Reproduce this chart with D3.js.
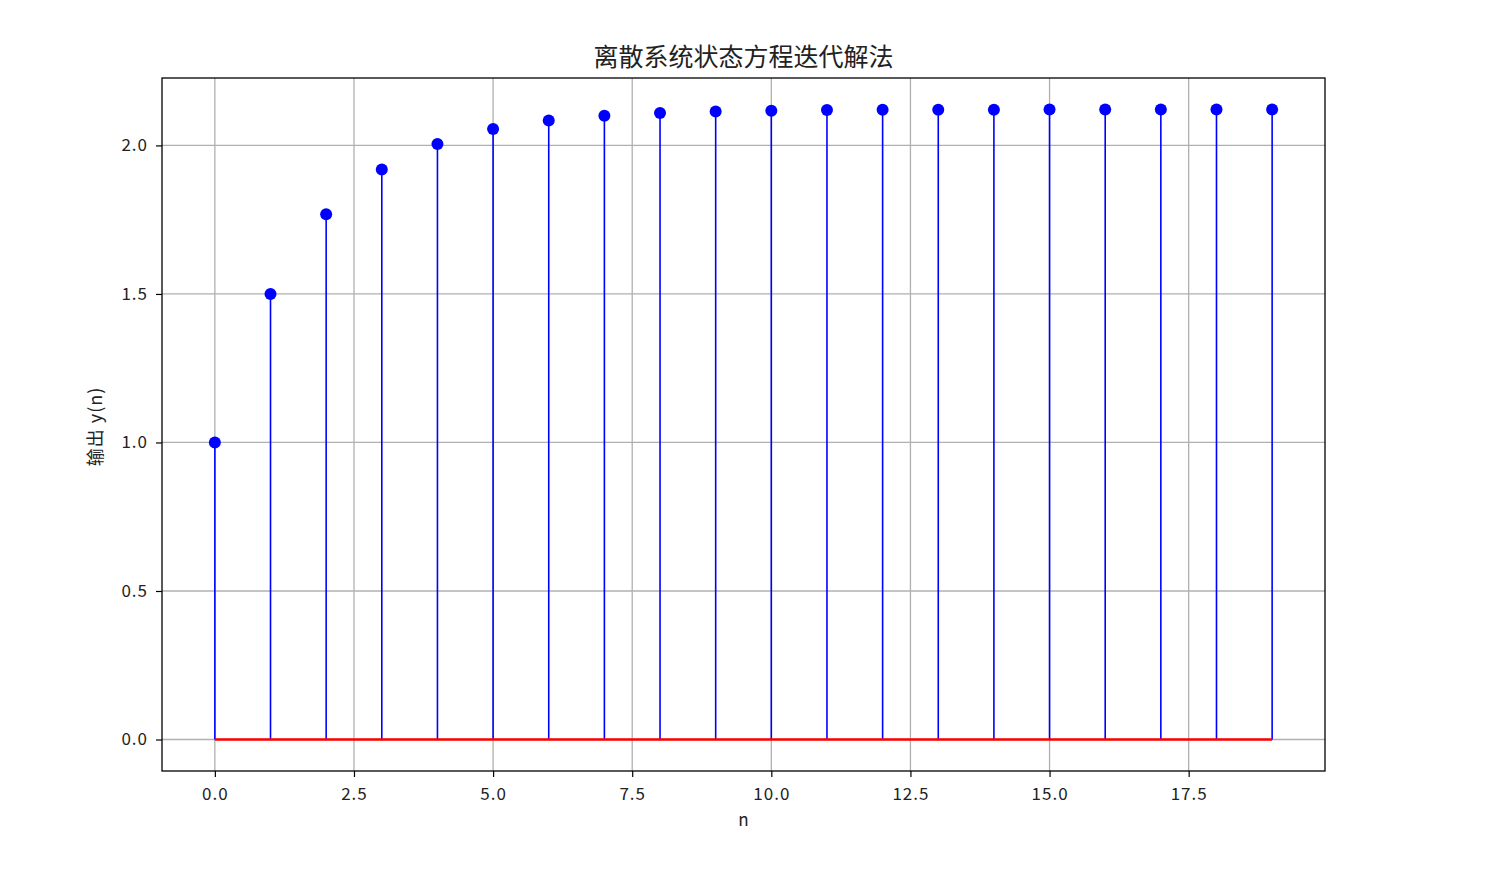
<!DOCTYPE html>
<html>
<head>
<meta charset="utf-8">
<script src="https://cdn.jsdelivr.net/npm/d3@7"></script>
<style>
  body { margin: 0; background: #fff; }
  text { font-family: "Noto Sans CJK SC", "DejaVu Sans", sans-serif; }
</style>
</head>
<body>
<div id="chart"></div>
<script>
// Stem plot: state-equation iteration output y(n)
const nValues = d3.range(0, 20);
const yValues = [1.0, 1.5, 1.768, 1.919, 2.005, 2.055, 2.084, 2.100, 2.109, 2.114,
                 2.117, 2.119, 2.120, 2.120, 2.120, 2.121, 2.121, 2.121, 2.121, 2.121];
const xTicks = [0, 2.5, 5, 7.5, 10, 12.5, 15, 17.5];
const yTicks = [0, 0.5, 1.0, 1.5, 2.0];
const titleText = '离散系统状态方程迭代解法';
const xLabel = 'n';
const yLabel = '输出 y(n)';

const W = 1501, H = 874;
const M = { left: 162, right: 1325, top: 78, bottom: 771 };

const svg = d3.select('#chart').append('svg')
    .attr('width', W).attr('height', H);

const x = d3.scaleLinear().domain([-0.95, 19.95]).range([M.left, M.right]);
const y = d3.scaleLinear().domain([-0.106, 2.227]).range([M.bottom, M.top]);

// grid
const grid = svg.append('g').attr('stroke', '#b0b0b0').attr('stroke-width', 1.3);
grid.selectAll('.gx').data(xTicks).join('line')
    .attr('x1', d => x(d)).attr('x2', d => x(d))
    .attr('y1', M.top).attr('y2', M.bottom);
grid.selectAll('.gy').data(yTicks).join('line')
    .attr('x1', M.left).attr('x2', M.right)
    .attr('y1', d => y(d)).attr('y2', d => y(d));

// stems
const pts = nValues.map((n, i) => ({ n, v: yValues[i] }));
svg.append('g').selectAll('line').data(pts).join('line')
    .attr('x1', d => x(d.n)).attr('x2', d => x(d.n))
    .attr('y1', y(0)).attr('y2', d => y(d.v))
    .attr('stroke', '#0000ff').attr('stroke-width', 1.6);

// baseline
svg.append('line')
    .attr('x1', x(nValues[0])).attr('x2', x(nValues[nValues.length - 1]))
    .attr('y1', y(0)).attr('y2', y(0))
    .attr('stroke', '#ff0000').attr('stroke-width', 2.6);

// markers
svg.append('g').selectAll('circle').data(pts).join('circle')
    .attr('cx', d => x(d.n)).attr('cy', d => y(d.v)).attr('r', 6)
    .attr('fill', '#0000ff');

// axes
const fmt = d3.format('.1f');
const xAxis = svg.append('g').attr('transform', `translate(0,${M.bottom})`)
    .call(d3.axisBottom(x).tickValues(xTicks).tickFormat(fmt).tickSize(6).tickPadding(11));
const yAxis = svg.append('g').attr('transform', `translate(${M.left},0)`)
    .call(d3.axisLeft(y).tickValues(yTicks).tickFormat(fmt).tickSize(6).tickPadding(8));
[xAxis, yAxis].forEach(a => {
    a.select('.domain').remove();
    a.selectAll('line').attr('stroke', '#000').attr('stroke-width', 1.2);
    a.selectAll('text').attr('font-size', 17).attr('fill', '#222')
        .attr('letter-spacing', 1)
        .attr('font-family', '"Noto Sans CJK SC", sans-serif');
});

// frame
svg.append('rect')
    .attr('x', M.left).attr('y', M.top)
    .attr('width', M.right - M.left).attr('height', M.bottom - M.top)
    .attr('fill', 'none').attr('stroke', '#000').attr('stroke-width', 1.3);

// labels
svg.append('text').attr('x', (M.left + M.right) / 2).attr('y', 66)
    .attr('text-anchor', 'middle').attr('font-size', 25).attr('fill', '#222')
    .text(titleText);
svg.append('text').attr('x', (M.left + M.right) / 2).attr('y', 826)
    .attr('text-anchor', 'middle').attr('font-size', 17).attr('fill', '#222')
    .text(xLabel);
svg.append('text')
    .attr('transform', `translate(102,${(M.top + M.bottom) / 2 + 2}) rotate(-90)`)
    .attr('text-anchor', 'middle').attr('font-size', 18).attr('fill', '#222')
    .attr('letter-spacing', 1)
    .text(yLabel);
</script>
</body>
</html>
